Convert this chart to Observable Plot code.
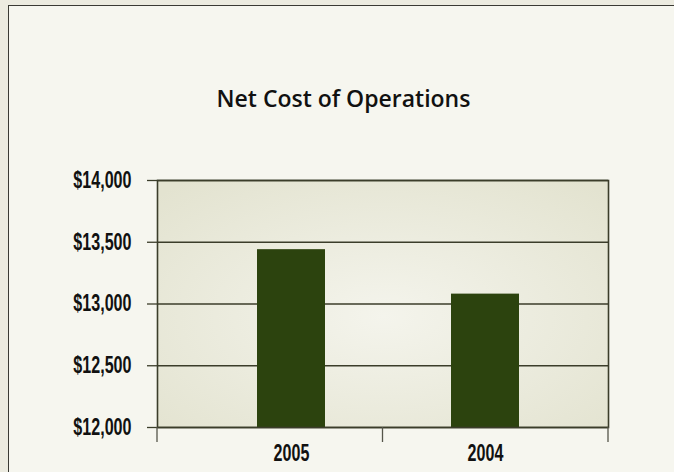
<!DOCTYPE html>
<html>
<head>
<meta charset="utf-8">
<script src="https://cdn.jsdelivr.net/npm/d3@7"></script>
<script src="https://cdn.jsdelivr.net/npm/@observablehq/plot@0.6"></script>
<style>
  html, body { margin: 0; padding: 0; background: #ecebe0; }
  #page { position: relative; width: 674px; height: 472px; overflow: hidden; background: #ecebe0; }
  #panel { position: absolute; left: 8px; top: 5px; width: 700px; height: 500px;
           background: #f6f6ef; border-left: 1.5px solid #3a3a34; border-top: 1.5px solid #3a3a34; }
  #title { position: absolute; left: 0; width: 687px; top: 82px; text-align: center;
           font-family: "Open Sans", sans-serif; font-weight: 600; font-size: 23px; color: #111; }
  #chart { position: absolute; left: 0; top: 0; }
</style>
</head>
<body>
<div id="page">
  <div id="panel"></div>
  <div id="title">Net Cost of Operations</div>
  <div id="chart"></div>
</div>
<script>
const categories = ["2005", "2004"];
const netCost = [13440, 13080];
const yTicks = [12000, 12500, 13000, 13500, 14000];
const yDomain = [12000, 14000];

const data = categories.map((c, i) => ({year: c, value: netCost[i]}));

const gridColor = "#3b3d2a";
const barColor = "#2c430e";
const narrow = 0.7;

function boundaryTicks() {
  return (index, scales, values, dims) => {
    const g = d3.create("svg:g");
    const x0 = dims.marginLeft, x1 = dims.width - dims.marginRight;
    const y = dims.height - dims.marginBottom;
    const n = categories.length;
    for (let i = 0; i <= n; i++) {
      const x = x0 + (x1 - x0) * i / n;
      g.append("line").attr("x1", x).attr("x2", x).attr("y1", y).attr("y2", y + 15)
        .attr("stroke", "#55554a").attr("stroke-width", 1.3);
    }
    return g.node();
  };
}

const chart = Plot.plot({
  width: 674,
  height: 472,
  marginLeft: 157,
  marginRight: 66,
  marginTop: 180,
  marginBottom: 45,
  style: {background: "transparent", fontFamily: "'Liberation Sans', Arial, sans-serif"},
  x: {type: "band", domain: categories, paddingInner: 0.65, paddingOuter: 0.487, align: 0.53, label: null},
  y: {domain: yDomain, label: null},
  marks: [
    Plot.frame({fill: "url(#plotGrad)", stroke: null}),
    Plot.gridY(yTicks, {stroke: gridColor, strokeOpacity: 1, strokeWidth: 1.3}),
    Plot.barY(data, {x: "year", y1: yDomain[0], y2: "value", fill: barColor}),
    Plot.frame({stroke: gridColor, strokeWidth: 1.6}),
    Plot.axisY(yTicks, {tickSize: 10, tickPadding: 16, stroke: gridColor, strokeWidth: 1.3,
      tickFormat: d => "$" + d3.format(",")(d),
      fontSize: 23, fontWeight: "bold", fill: "#111"}),
    Plot.axisX({tickSize: 0, tickPadding: 17, fontSize: 23, fontWeight: "bold", fill: "#111"}),
    boundaryTicks()
  ]
});

const svg = d3.select(chart);
const defs = svg.insert("defs", ":first-child");
const grad = defs.append("radialGradient").attr("id", "plotGrad")
  .attr("cx", "0.5").attr("cy", "0.55").attr("r", "0.7");
grad.append("stop").attr("offset", "0%").attr("stop-color", "#f4f4ec");
grad.append("stop").attr("offset", "100%").attr("stop-color", "#e3e3d0");

// condensed lettering, like the original's narrow typeface
svg.selectAll("text").each(function() {
  const t = d3.select(this);
  const tr = t.attr("transform");
  if (tr) {
    t.attr("transform", tr + ` scale(${narrow},1)`);
  } else {
    const x = +(t.attr("x") || 0);
    t.attr("transform", `translate(${x * (1 - narrow)},0) scale(${narrow},1)`);
  }
});

document.getElementById("chart").appendChild(chart);
</script>
</body>
</html>
